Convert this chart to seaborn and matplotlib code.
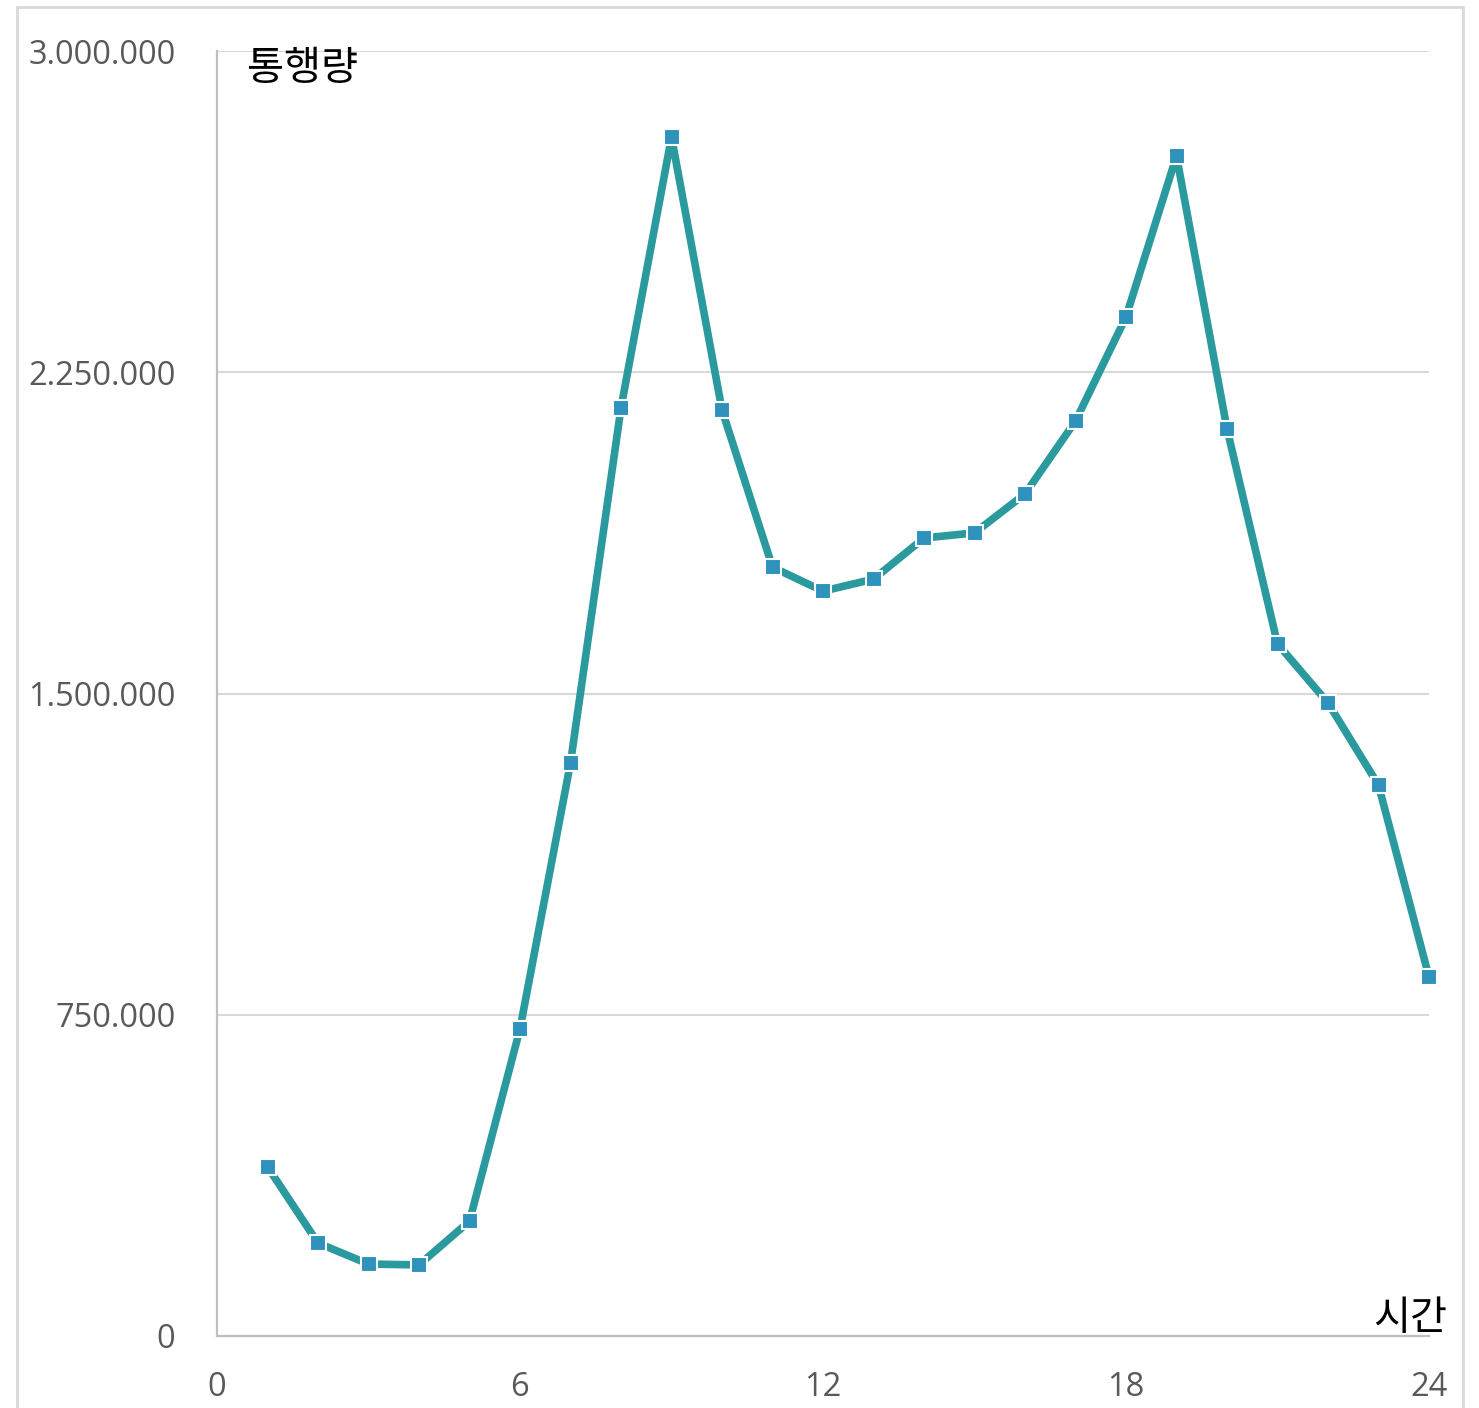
import pandas as pd
import seaborn as sns
import matplotlib.pyplot as plt
from matplotlib.patches import Rectangle
from matplotlib.ticker import FuncFormatter

# hourly traffic volume
hours = list(range(1, 25))
volume = [395000, 217000, 168000, 166000, 268000, 717000, 1338000, 2167000,
          2799000, 2162000, 1795000, 1739000, 1767000, 1863000, 1875000, 1966000,
          2136000, 2379000, 2755000, 2118000, 1616000, 1478000, 1286000, 838000]
x_ticks = [0, 6, 12, 18, 24]
y_ticks = [0, 750000, 1500000, 2250000, 3000000]

df = pd.DataFrame({'hour': hours, 'volume': volume})

sns.set_theme(style='white')
plt.rcParams['font.family'] = ['Open Sans', 'Noto Sans CJK KR', 'DejaVu Sans']

fig = plt.figure(figsize=(14.79, 14.08), dpi=100)
ax = fig.add_axes([217 / 1479, 1 - 1336 / 1408, (1429 - 217) / 1479, (1336 - 51) / 1408])

sns.lineplot(data=df, x='hour', y='volume', ax=ax, color='#2A9A9E', linewidth=5.5,
             marker='s', markersize=11, markerfacecolor='#2E92BC',
             markeredgecolor='white', markeredgewidth=1.5, zorder=3, clip_on=False)

ax.set_xlim(0, 24)
ax.set_ylim(0, 3000000)
ax.set_xticks(x_ticks)
ax.set_yticks(y_ticks)
ax.yaxis.set_major_formatter(FuncFormatter(lambda v, p: f'{int(v):,}'.replace(',', '.')))
ax.tick_params(axis='both', length=0, labelsize=23.5, labelcolor='#595959')
ax.tick_params(axis='y', pad=30)
ax.tick_params(axis='x', pad=25)
ax.set_xlabel('')
ax.set_ylabel('')

ax.grid(axis='y', color='#d9d9d9', linewidth=1.5)
ax.set_axisbelow(True)
for side in ['top', 'right']:
    ax.spines[side].set_visible(False)
for side in ['left', 'bottom']:
    ax.spines[side].set_color('#bfbfbf')
    ax.spines[side].set_linewidth(1.6)
    ax.spines[side].set_zorder(2)

ax.text(0.59, 2960000, '통행량', family=['Noto Sans CJK KR', 'DejaVu Sans'],
        fontsize=29, color='black', ha='left', va='center')
ax.text(24.36, 42000, '시간', family=['Noto Sans CJK KR', 'DejaVu Sans'],
        fontsize=29, color='black', ha='right', va='center', clip_on=False)

# outer chart border
fig.patches.append(Rectangle((17 / 1479, -0.05), (1463 - 17) / 1479, 1 - 7 / 1408 + 0.05,
                             transform=fig.transFigure, fill=False,
                             edgecolor='#d9d9d9', linewidth=2))

fig.savefig('out.png', dpi=100)
